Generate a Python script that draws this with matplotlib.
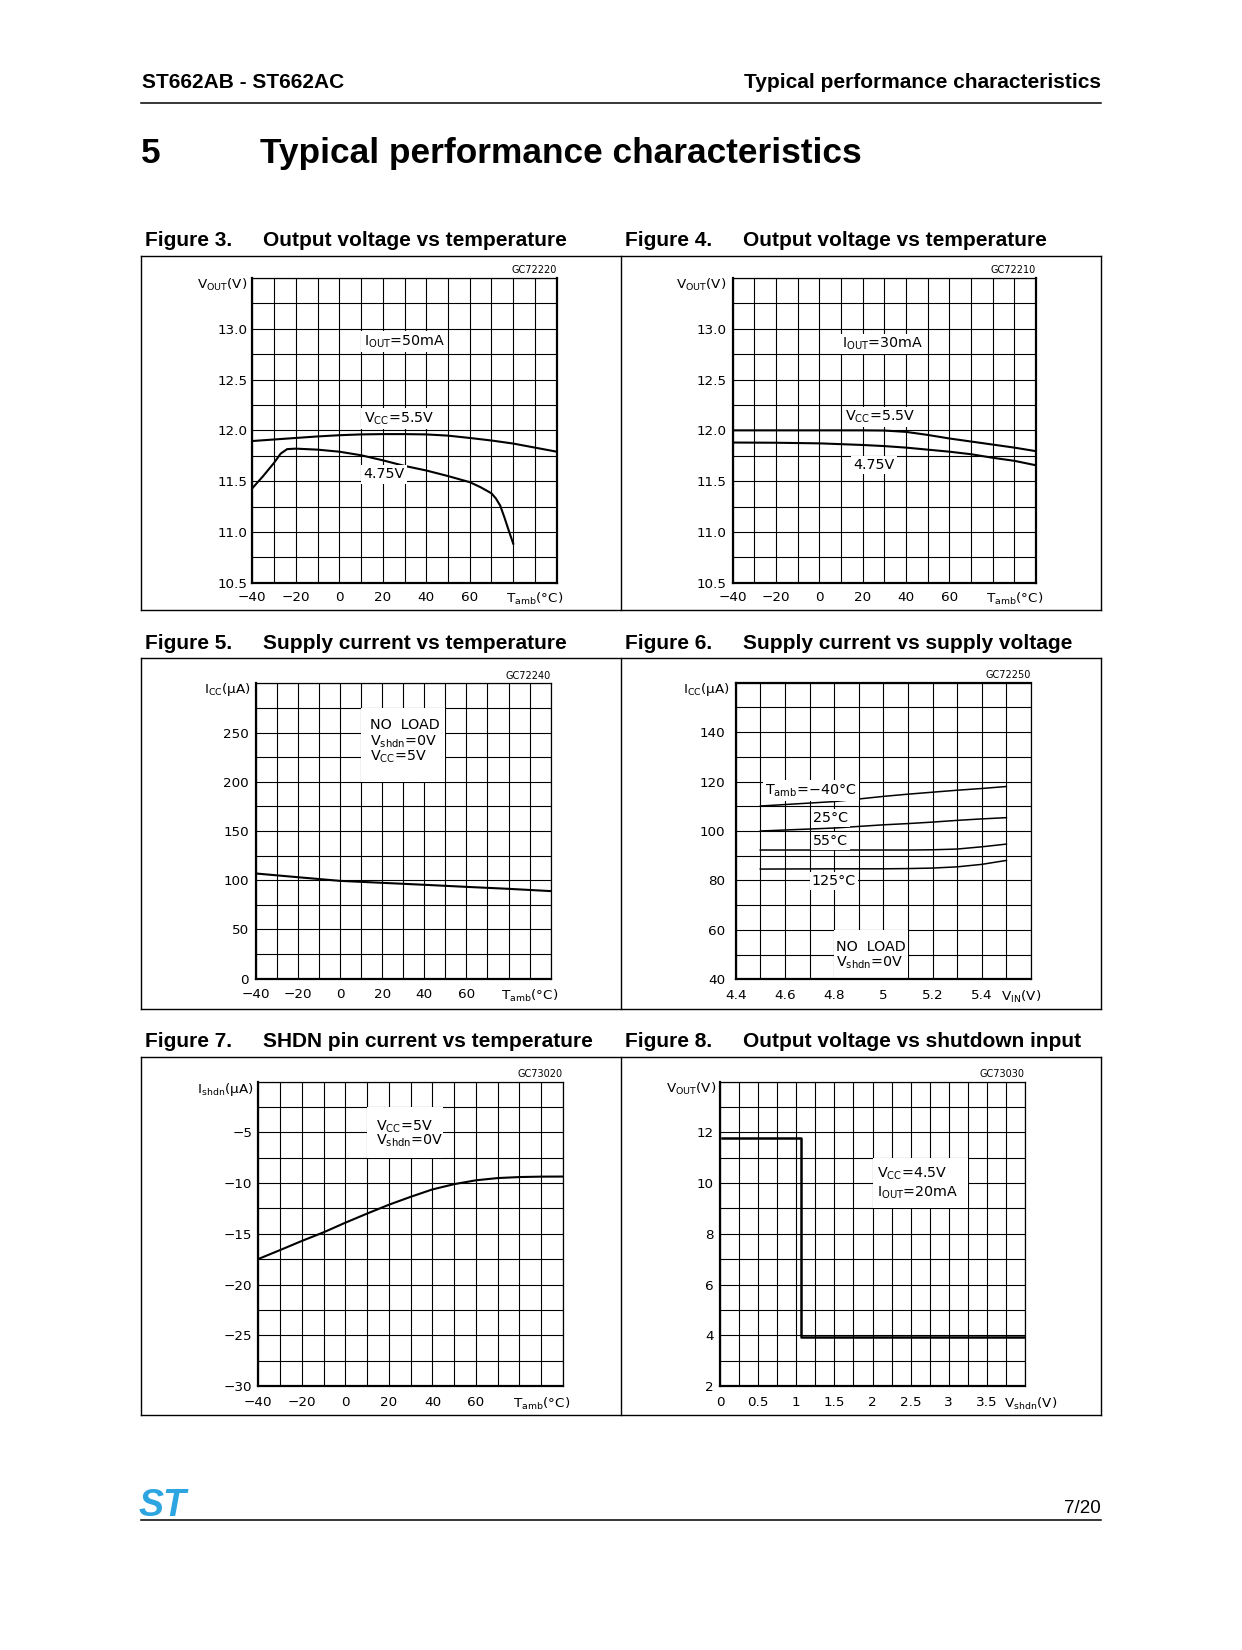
import matplotlib
matplotlib.use('Agg')
import matplotlib.pyplot as plt
import numpy as np
from matplotlib.patches import Rectangle
from matplotlib.lines import Line2D

plt.rcParams['font.family'] = ['Liberation Sans', 'DejaVu Sans']
plt.rcParams['mathtext.fontset'] = 'custom'
plt.rcParams['mathtext.rm'] = 'DejaVu Sans'
plt.rcParams['mathtext.it'] = 'DejaVu Sans:italic'
plt.rcParams['mathtext.bf'] = 'DejaVu Sans:bold'

# ---------------- data ----------------
# Figure 3: Output voltage vs temperature (IOUT = 50 mA)
fig3_temp_55 = [-40, -30, -20, -10, 0, 10, 20, 30, 40, 50, 60, 70, 80, 90, 100]
fig3_vout_55 = [11.895, 11.91, 11.925, 11.94, 11.952, 11.96, 11.963, 11.963, 11.96,
                11.948, 11.925, 11.90, 11.87, 11.83, 11.79]
fig3_temp_475 = [-40, -35, -30, -27, -24, -20, -10, 0, 10, 20, 30, 40, 50, 60, 65,
                 70, 72, 74, 76, 78, 80]
fig3_vout_475 = [11.43, 11.55, 11.68, 11.77, 11.815, 11.82, 11.81, 11.79, 11.755, 11.705,
                 11.65, 11.605, 11.55, 11.49, 11.44, 11.38, 11.33, 11.26, 11.14, 11.01, 10.885]

# Figure 4: Output voltage vs temperature (IOUT = 30 mA)
fig4_temp = [-40, -20, 0, 20, 30, 40, 50, 60, 70, 80, 90, 100]
fig4_vout_55 = [12.0, 12.0, 12.0, 12.0, 11.998, 11.985, 11.955, 11.92, 11.89, 11.86, 11.83, 11.795]
fig4_vout_475 = [11.88, 11.878, 11.872, 11.856, 11.845, 11.83, 11.81, 11.79, 11.765, 11.73, 11.70, 11.656]

# Figure 5: Supply current vs temperature
fig5_temp = [-40, -20, 0, 20, 40, 60, 80, 100]
fig5_icc = [106.8, 103.0, 99.3, 97.3, 95.3, 93.2, 91.2, 88.9]

# Figure 6: Supply current vs supply voltage
fig6_vin = [4.5, 4.8, 5.0, 5.1, 5.2, 5.3, 5.4, 5.5]
fig6_icc_m40 = [110.1, 111.9, 114.0, 114.9, 115.7, 116.5, 117.2, 118.0]
fig6_icc_25 = [100.0, 101.2, 102.5, 103.0, 103.6, 104.3, 104.9, 105.4]
fig6_icc_55 = [92.3, 92.3, 92.3, 92.3, 92.4, 92.7, 93.6, 94.7]
fig6_icc_125 = [84.6, 84.7, 84.7, 84.8, 85.0, 85.5, 86.5, 88.1]

# Figure 7: SHDN pin current vs temperature
fig7_temp = [-40, -30, -20, -10, 0, 10, 20, 30, 40, 50, 60, 70, 80, 90, 100]
fig7_ishdn = [-17.48, -16.6, -15.7, -14.85, -13.9, -13.0, -12.13, -11.35, -10.62,
              -10.1, -9.72, -9.5, -9.4, -9.36, -9.35]

# Figure 8: Output voltage vs shutdown input
fig8_vshdn = [0.03, 1.06, 1.06, 4.0]
fig8_vout = [11.78, 11.78, 3.92, 3.92]

# tick labels
temp_tick_labels = [-40, -20, 0, 20, 40, 60]
fig3_ytick_labels = [10.5, 11.0, 11.5, 12.0, 12.5, 13.0]
fig5_ytick_labels = [0, 50, 100, 150, 200, 250]
fig6_xtick_labels = [4.4, 4.6, 4.8, 5.0, 5.2, 5.4]
fig6_ytick_labels = [40, 60, 80, 100, 120, 140]
fig7_ytick_labels = [-30, -25, -20, -15, -10, -5]
fig8_xtick_labels = [0, 0.5, 1, 1.5, 2, 2.5, 3, 3.5]
fig8_ytick_labels = [2, 4, 6, 8, 10, 12]

# ---------------- layout ----------------
W, H = 1242, 1650
fig = plt.figure(figsize=(W / 100, H / 100), dpi=100)
fig.patch.set_facecolor('white')

CF = 'DejaVu Sans'   # chart font
TK = 9.7             # tick label size
ANN = 10.3           # annotation size
XR = 1101            # right edge of page content


def fx(x):
    return x / W


def fy(y):
    return 1 - y / H


def ftext(x, y, s, **kw):
    fig.text(fx(x), fy(y), s, **kw)


def hline(x0, x1, y, lw=1.0):
    fig.add_artist(Line2D([fx(x0), fx(x1)], [fy(y), fy(y)], color='black', lw=lw))


def vline(x, y0, y1, lw=1.0):
    fig.add_artist(Line2D([fx(x), fx(x)], [fy(y0), fy(y1)], color='black', lw=lw))


def make_ax(l, t, r, b):
    return fig.add_axes([fx(l), fy(b), (r - l) / W, (b - t) / H])


def fmt_num(v, style):
    if style == '1f':
        s = f"{v:.1f}"
    else:
        s = f"{v:g}"
    return s.replace('-', '\u2212')


def setup(ax, xlim, xstep, xlab, xstyle, ylim, ystep, ylab, ystyle, xpad, ypad,
          thick=('left', 'bottom')):
    xg = np.arange(xlim[0], xlim[1] + xstep / 2, xstep)
    yg = np.arange(ylim[0], ylim[1] + ystep / 2, ystep)
    ax.set_xlim(*xlim)
    ax.set_ylim(*ylim)
    ax.set_xticks(xg)
    ax.set_yticks(yg)
    ax.set_xticklabels([fmt_num(g, xstyle) if any(abs(g - v) < 1e-6 for v in xlab) else ''
                        for g in xg], family=CF)
    ax.set_yticklabels([fmt_num(g, ystyle) if any(abs(g - v) < 1e-6 for v in ylab) else ''
                        for g in yg], family=CF)
    ax.tick_params(length=0, labelsize=TK)
    ax.tick_params(axis='x', pad=xpad)
    ax.tick_params(axis='y', pad=ypad)
    ax.grid(True, color='black', lw=0.8)
    ax.set_axisbelow(True)
    for name, sp in ax.spines.items():
        sp.set_color('black')
        sp.set_linewidth(1.6 if name in thick else 0.9)


def xlabel_at(ax, x, s, pad):
    ax.annotate(s, xy=(x, 0), xycoords=('data', 'axes fraction'),
                xytext=(0, -pad), textcoords='offset points',
                ha='center', va='top', fontsize=TK, family=CF)


def code_label(ax, s):
    ax.annotate(s, xy=(1, 1), xycoords='axes fraction', xytext=(0, 2),
                textcoords='offset points', ha='right', va='bottom',
                fontsize=7, family=CF)


def note(ax, x, y, s, box=True):
    kw = dict(fontsize=ANN, va='center', family=CF, zorder=3)
    if box:
        kw['bbox'] = dict(facecolor='white', edgecolor='none', pad=1.5)
    ax.text(x, y, s, **kw)


def ylab(x, y, s):
    ftext(x, y, s, fontsize=TK, ha='right', va='center', family=CF)


# ---------------- page header ----------------
ftext(142, 87.5, "ST662AB - ST662AC", fontsize=15, fontweight='bold', va='baseline')
ftext(XR, 87.5, "Typical performance characteristics", fontsize=15,
      fontweight='bold', va='baseline', ha='right')
hline(141, XR, 103, lw=1.1)
ftext(141, 163.3, "5", fontsize=25.4, fontweight='bold', va='baseline')
ftext(260, 163.3, "Typical performance characteristics", fontsize=25.4,
      fontweight='bold', va='baseline')

# figure captions
caps = [
    (245.7, ("Figure 3.", "Output voltage vs temperature"),
     ("Figure 4.", "Output voltage vs temperature")),
    (649.0, ("Figure 5.", "Supply current vs temperature"),
     ("Figure 6.", "Supply current vs supply voltage")),
    (1046.7, ("Figure 7.", "SHDN pin current vs temperature"),
     ("Figure 8.", "Output voltage vs shutdown input")),
]
for yb, left, right in caps:
    ftext(145, yb, left[0], fontsize=15, fontweight='bold', va='baseline')
    ftext(263, yb, left[1], fontsize=15, fontweight='bold', va='baseline')
    ftext(625, yb, right[0], fontsize=15, fontweight='bold', va='baseline')
    ftext(743, yb, right[1], fontsize=15, fontweight='bold', va='baseline')

# boxes
for t, b in [(255.5, 610), (658.3, 1008.5), (1057, 1415)]:
    hline(140.5, XR, t)
    hline(140.5, XR, b)
    vline(140.5, t, b)
    vline(XR, t, b)
    vline(620.8, t, b)

# footer
hline(141, XR, 1520, lw=1.1)
ftext(XR, 1512.7, "7/20", fontsize=13.5, ha='right', va='baseline')
ftext(139, 1516, "ST", fontsize=27, fontweight='bold', style='italic',
      color='#2DA5E1', va='baseline')

TAMB = "T$_{\\mathregular{amb}}$(°C)"
VOUT = "V$_{\\mathregular{OUT}}$(V)"

# ---------------- Figure 3 ----------------
ax3 = make_ax(252.3, 278, 556.7, 582.7)
setup(ax3, (-40, 100), 10, temp_tick_labels, 'g', (10.5, 13.5), 0.25,
      fig3_ytick_labels, '1f', 6.0, 3.6, thick=('left', 'bottom', 'right'))
ax3.plot(fig3_temp_55, fig3_vout_55, color='black', lw=1.5, zorder=2)
ax3.plot(fig3_temp_475, fig3_vout_475, color='black', lw=1.5, zorder=2)
note(ax3, 11.2, 12.875, "I$_{\\mathregular{OUT}}$=50mA")
note(ax3, 11.2, 12.114, "V$_{\\mathregular{CC}}$=5.5V")
note(ax3, 11.2, 11.566, "4.75V")
xlabel_at(ax3, 90, TAMB, 6.0)
code_label(ax3, "GC72220")
ylab(247, 285, VOUT)

# ---------------- Figure 4 ----------------
ax4 = make_ax(732.7, 278, 1036, 582.7)
setup(ax4, (-40, 100), 10, temp_tick_labels, 'g', (10.5, 13.5), 0.25,
      fig3_ytick_labels, '1f', 6.0, 4.6, thick=('left', 'bottom', 'right'))
ax4.plot(fig4_temp, fig4_vout_55, color='black', lw=1.5, zorder=2)
ax4.plot(fig4_temp, fig4_vout_475, color='black', lw=1.5, zorder=2)
note(ax4, 10.4, 12.85, "I$_{\\mathregular{OUT}}$=30mA")
note(ax4, 11.9, 12.13, "V$_{\\mathregular{CC}}$=5.5V")
note(ax4, 15.7, 11.66, "4.75V")
xlabel_at(ax4, 90, TAMB, 6.0)
code_label(ax4, "GC72210")
ylab(726.7, 285, VOUT)

# ---------------- Figure 5 ----------------
ax5 = make_ax(255.7, 683.3, 550.7, 978.6)
setup(ax5, (-40, 100), 10, temp_tick_labels, 'g', (0, 300), 25,
      fig5_ytick_labels, 'g', 7.0, 4.8)
ax5.plot(fig5_temp, fig5_icc, color='black', lw=1.5, zorder=2)
ax5.add_patch(Rectangle((10, 200), 40, 75, facecolor='white', edgecolor='none', zorder=1))
note(ax5, 14.2, 257.7, "NO  LOAD", box=False)
note(ax5, 14.2, 240.8, "V$_{\\mathregular{shdn}}$=0V", box=False)
note(ax5, 14.2, 225.6, "V$_{\\mathregular{CC}}$=5V", box=False)
xlabel_at(ax5, 90, TAMB, 7.0)
code_label(ax5, "GC72240")
ylab(250.7, 690, "I$_{\\mathregular{CC}}$(μA)")

# ---------------- Figure 6 ----------------
ax6 = make_ax(735.7, 682.7, 1031, 979.3)
setup(ax6, (4.4, 5.6), 0.1, fig6_xtick_labels, 'g', (40, 160), 10,
      fig6_ytick_labels, 'g', 7.0, 7.7, thick=('left', 'bottom', 'top'))
for series in (fig6_icc_m40, fig6_icc_25, fig6_icc_55, fig6_icc_125):
    ax6.plot(fig6_vin, series, color='black', lw=1.1, zorder=2)
note(ax6, 4.519, 116.3, "T$_{\\mathregular{amb}}$=\u221240°C")
note(ax6, 4.715, 105.4, "25°C")
note(ax6, 4.715, 95.9, "55°C")
note(ax6, 4.709, 79.7, "125°C")
ax6.add_patch(Rectangle((4.8, 40), 0.3, 20, facecolor='white', edgecolor='none', zorder=1))
note(ax6, 4.808, 53.2, "NO  LOAD", box=False)
note(ax6, 4.808, 46.5, "V$_{\\mathregular{shdn}}$=0V", box=False)
xlabel_at(ax6, 5.56, "V$_{\\mathregular{IN}}$(V)", 7.0)
code_label(ax6, "GC72250")
ylab(730, 690, "I$_{\\mathregular{CC}}$(μA)")

# ---------------- Figure 7 ----------------
ax7 = make_ax(258.3, 1081.7, 563, 1386)
setup(ax7, (-40, 100), 10, temp_tick_labels, 'g', (-30, 0), 2.5,
      fig7_ytick_labels, 'g', 7.0, 4.3)
ax7.plot(fig7_temp, fig7_ishdn, color='black', lw=1.5, zorder=2)
ax7.add_patch(Rectangle((10, -7.5), 35, 5, facecolor='white', edgecolor='none', zorder=1))
note(ax7, 13.9, -4.43, "V$_{\\mathregular{CC}}$=5V", box=False)
note(ax7, 13.9, -5.81, "V$_{\\mathregular{shdn}}$=0V", box=False)
xlabel_at(ax7, 90, TAMB, 7.0)
code_label(ax7, "GC73020")
ylab(254, 1089, "I$_{\\mathregular{shdn}}$(μA)")

# ---------------- Figure 8 ----------------
ax8 = make_ax(720, 1081.7, 1025, 1386)
setup(ax8, (0, 4), 0.25, fig8_xtick_labels, 'g', (2, 14), 1,
      fig8_ytick_labels, 'g', 7.0, 4.3)
ax8.plot(fig8_vshdn, fig8_vout, color='black', lw=1.8, zorder=2)
ax8.add_patch(Rectangle((2.0, 9), 1.25, 2, facecolor='white', edgecolor='none', zorder=1))
note(ax8, 2.06, 10.37, "V$_{\\mathregular{CC}}$=4.5V", box=False)
note(ax8, 2.06, 9.61, "I$_{\\mathregular{OUT}}$=20mA", box=False)
xlabel_at(ax8, 4.08, "V$_{\\mathregular{shdn}}$(V)", 7.0)
code_label(ax8, "GC73030")
ylab(716.7, 1089, VOUT)

fig.savefig('out.png', dpi=100, facecolor='white')
